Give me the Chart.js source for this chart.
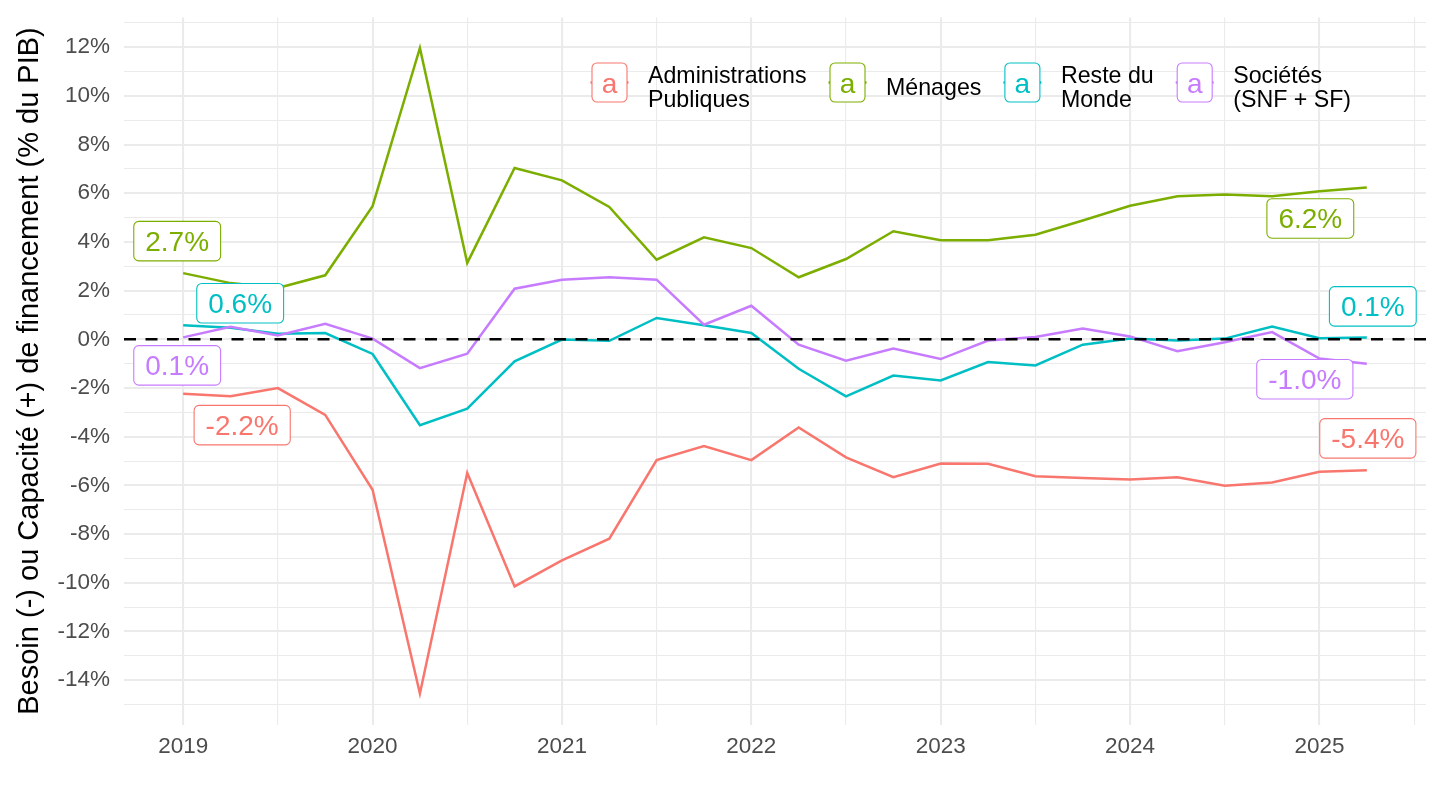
<!DOCTYPE html>
<html><head><meta charset="utf-8">
<script src="https://cdn.jsdelivr.net/npm/chart.js@4.4.1/dist/chart.umd.min.js"></script>
<style>html,body{margin:0;padding:0;background:#fff;overflow:hidden}canvas{display:block}</style>
</head><body>
<canvas id="c" width="1440" height="810" style="width:1440px;height:810px"></canvas>
<script>
// ---- data ----
const quarters = [2019.00, 2019.25, 2019.50, 2019.75, 2020.00, 2020.25, 2020.50, 2020.75,
                  2021.00, 2021.25, 2021.50, 2021.75, 2022.00, 2022.25, 2022.50, 2022.75,
                  2023.00, 2023.25, 2023.50, 2023.75, 2024.00, 2024.25, 2024.50, 2024.75,
                  2025.00, 2025.25];
const seriesLabels = [['Administrations', 'Publiques'], ['Ménages'], ['Reste du', 'Monde'], ['Sociétés', '(SNF + SF)']];
const adminPubliques = [-2.23, -2.34, -2.00, -3.10, -6.18, -14.55, -5.49, -10.15, -9.08, -8.19, -4.96, -4.38, -4.96,
                        -3.62, -4.85, -5.66, -5.10, -5.11, -5.62, -5.70, -5.76, -5.66, -6.01, -5.88, -5.44, -5.38];
const menages = [2.72, 2.31, 2.11, 2.63, 5.47, 11.97, 3.14, 7.04, 6.53, 5.44, 3.27, 4.19, 3.75,
                 2.55, 3.30, 4.44, 4.07, 4.07, 4.30, 4.88, 5.49, 5.88, 5.95, 5.88, 6.08, 6.24];
const resteDuMonde = [0.58, 0.48, 0.23, 0.26, -0.60, -3.53, -2.85, -0.90, -0.01, -0.06, 0.88, 0.58, 0.26,
                      -1.21, -2.34, -1.49, -1.69, -0.93, -1.07, -0.22, 0.03, -0.05, 0.03, 0.53, 0.05, 0.08];
const societes = [0.08, 0.52, 0.16, 0.64, 0.03, -1.18, -0.59, 2.08, 2.45, 2.55, 2.45, 0.60, 1.38,
                  -0.22, -0.88, -0.38, -0.81, -0.05, 0.10, 0.44, 0.12, -0.49, -0.12, 0.30, -0.79, -1.00];
const xTickYears = [2019, 2020, 2021, 2022, 2023, 2024, 2025];
const xGridValues = [2019, 2019.5, 2020, 2020.5, 2021, 2021.5, 2022, 2022.5, 2023, 2023.5, 2024, 2024.5, 2025, 2025.5];
const yTickValues = [-14, -12, -10, -8, -6, -4, -2, 0, 2, 4, 6, 8, 10, 12];
const yGridValues = [-15, -14, -13, -12, -11, -10, -9, -8, -7, -6, -5, -4, -3, -2, -1, 0, 1, 2, 3, 4, 5, 6, 7, 8, 9, 10, 11, 12, 13];
const referenceLine = [0, 0];

// ---- styles ----
const colors = ['#F8766D', '#7CAE00', '#00BFC4', '#C77CFF'];
const FONT = '"Liberation Sans", Arial, Helvetica, sans-serif';
const allSeries = [adminPubliques, menages, resteDuMonde, societes];
const xMin = 2018.6875, xMax = 2025.5625;

const datasets = allSeries.map((arr, i) => ({
  label: seriesLabels[i].join(' '),
  data: quarters.map((q, j) => ({x: q, y: arr[j]})),
  borderColor: colors[i],
  backgroundColor: colors[i],
  borderWidth: 2.5,
  pointRadius: 0,
  tension: 0,
  order: 4 - i
}));
datasets.push({
  label: 'zero',
  data: [{x: xMin, y: referenceLine[0]}, {x: xMax, y: referenceLine[1]}],
  borderColor: '#000',
  borderWidth: 2.5,
  borderDash: [12, 9.5],
  borderCapStyle: 'butt',
  pointRadius: 0,
  order: 0
});

function roundRect(ctx, x, y, w, h, r) {
  ctx.beginPath();
  ctx.moveTo(x + r, y);
  ctx.lineTo(x + w - r, y);
  ctx.arcTo(x + w, y, x + w, y + r, r);
  ctx.lineTo(x + w, y + h - r);
  ctx.arcTo(x + w, y + h, x + w - r, y + h, r);
  ctx.lineTo(x + r, y + h);
  ctx.arcTo(x, y + h, x, y + h - r, r);
  ctx.lineTo(x, y + r);
  ctx.arcTo(x, y, x + r, y, r);
  ctx.closePath();
}

const endLabels = {
  id: 'endLabels',
  afterDatasetsDraw(chart, args, opts) {
    const ctx = chart.ctx;
    ctx.save();
    ctx.font = '28px ' + FONT;
    opts.items.forEach(it => {
      const meta = chart.getDatasetMeta(it.ds);
      const idx = it.last ? meta.data.length - 1 : 0;
      const pt = meta.data[idx];
      const v = chart.data.datasets[it.ds].data[idx].y;
      const txt = v.toFixed(1) + '%';
      const tw = ctx.measureText(txt).width;
      const w = tw + 23, h = 39.5;
      const cx = pt.x + it.dx, cy = pt.y + it.dy;
      roundRect(ctx, cx - w / 2, cy - h / 2, w, h, 5);
      ctx.fillStyle = '#fff';
      ctx.fill();
      ctx.lineWidth = 1.1;
      ctx.strokeStyle = colors[it.ds];
      ctx.stroke();
      ctx.fillStyle = colors[it.ds];
      ctx.textAlign = 'center';
      ctx.textBaseline = 'alphabetic';
      ctx.fillText(txt, cx, cy + 10);
    });
    ctx.restore();
  }
};

const ggLegend = {
  id: 'ggLegend',
  afterDraw(chart, args, opts) {
    const ctx = chart.ctx;
    ctx.save();
    let x = opts.left;
    const top = opts.top, kw = 35, kh = 39;
    const cy = top + kh / 2;
    seriesLabels.forEach((lines, i) => {
      ctx.strokeStyle = colors[i];
      ctx.lineWidth = 2.5;
      ctx.beginPath();
      ctx.moveTo(x - 1.5, cy);
      ctx.lineTo(x + kw + 1.5, cy);
      ctx.stroke();
      roundRect(ctx, x, top, kw, kh, 5);
      ctx.fillStyle = '#fff';
      ctx.fill();
      ctx.lineWidth = 1.1;
      ctx.stroke();
      ctx.font = '28px ' + FONT;
      ctx.fillStyle = colors[i];
      ctx.textAlign = 'center';
      ctx.textBaseline = 'alphabetic';
      ctx.fillText('a', x + kw / 2, cy + 10.3);
      ctx.font = '23.2px ' + FONT;
      ctx.fillStyle = '#000';
      ctx.textAlign = 'left';
      const tx = x + kw + 21;
      const lh = 24.5;
      const firstBase = cy + 12.5 - (lines.length - 1) * lh / 2;
      let maxW = 0;
      lines.forEach((l, k) => {
        ctx.fillText(l, tx, firstBase + k * lh);
        maxW = Math.max(maxW, ctx.measureText(l).width);
      });
      x = tx + maxW + 23.5;
    });
    ctx.restore();
  }
};

new Chart(document.getElementById('c'), {
  type: 'line',
  data: {datasets},
  plugins: [endLabels, ggLegend],
  options: {
    responsive: false,
    animation: false,
    devicePixelRatio: 1,
    layout: {padding: {left: 0, right: 14, top: 17.5, bottom: 0}},
    plugins: {
      legend: {display: false},
      tooltip: {enabled: false},
      endLabels: {items: [
        {ds: 0, last: false, dx: 59, dy: 31.5},
        {ds: 0, last: true, dx: 1, dy: -32},
        {ds: 1, last: false, dx: -6, dy: -32},
        {ds: 1, last: true, dx: -56.5, dy: 31},
        {ds: 2, last: false, dx: 57, dy: -22},
        {ds: 2, last: true, dx: 6, dy: -31},
        {ds: 3, last: false, dx: -6, dy: 28},
        {ds: 3, last: true, dx: -62, dy: 15.5}
      ]},
      ggLegend: {left: 592, top: 63}
    },
    scales: {
      x: {
        type: 'linear',
        min: xMin, max: xMax,
        afterBuildTicks: s => { s.ticks = xGridValues.map(v => ({value: v})); },
        afterFit: s => { s.height = 85.5; s.paddingLeft = 0; s.paddingRight = 0; },
        border: {display: false},
        grid: {
          drawTicks: false,
          color: '#EBEBEB',
          lineWidth: c => (c.tick && Number.isInteger(c.tick.value)) ? 2.1 : 1.1
        },
        ticks: {
          autoSkip: false,
          maxRotation: 0,
          padding: 9,
          color: '#4D4D4D',
          font: {family: FONT, size: 22.5},
          callback: v => xTickYears.includes(v) ? String(v) : ''
        }
      },
      y: {
        type: 'linear',
        min: -15.82, max: 13.22,
        afterBuildTicks: s => { s.ticks = yGridValues.map(v => ({value: v})); },
        afterFit: s => { s.width = 124; s.paddingTop = 0; s.paddingBottom = 0; },
        border: {display: false},
        grid: {
          drawTicks: false,
          color: '#EBEBEB',
          lineWidth: c => (c.tick && yTickValues.includes(c.tick.value)) ? 2.1 : 1.1
        },
        ticks: {
          autoSkip: false,
          padding: 14,
          color: '#4D4D4D',
          font: {family: FONT, size: 22.5},
          callback: v => yTickValues.includes(v) ? v + '%' : ''
        },
        title: {
          display: true,
          text: 'Besoin (-) ou Capacité (+) de financement (% du PIB)',
          color: '#000',
          font: {family: FONT, size: 29},
          padding: {top: 13, bottom: 0}
        }
      }
    }
  }
});
</script>
</body></html>
